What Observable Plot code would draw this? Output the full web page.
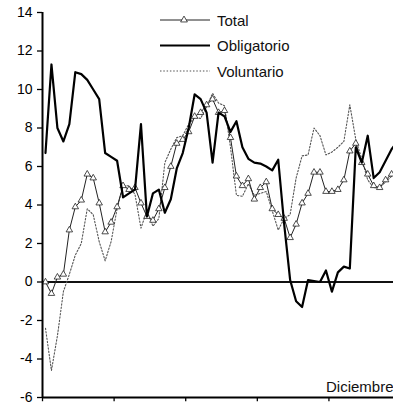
<!DOCTYPE html>
<html><head><meta charset="utf-8">
<script src="https://cdn.jsdelivr.net/npm/d3@7"></script>
<script src="https://cdn.jsdelivr.net/npm/@observablehq/plot@0.6"></script>
<style>
html,body{margin:0;padding:0;background:#fff;overflow:hidden}
#chart{position:relative;width:393px;height:410px}
</style>
</head><body><div id="chart"></div>
<script>
// Monthly growth rates (%), 60 months
const total = [0.0, -0.6, 0.25, 0.4, 2.7, 3.9, 4.25, 5.6, 5.4, 4.1,
  2.6, 3.1, 3.9, 5.0, 4.8, 4.9, 4.1, 3.4, 3.2, 3.8,
  4.9, 6.0, 7.2, 7.4, 7.8, 8.6, 8.8, 9.2, 9.5, 8.8,
  8.9, 7.5, 5.5, 5.0, 5.36, 4.3, 4.9, 5.2, 3.8, 3.5,
  3.3, 2.3, 3.0, 4.1, 4.6, 5.7, 5.7, 4.7, 4.7, 4.8,
  5.3, 6.8, 7.2, 6.2, 5.6, 5.0, 4.9, 5.3, 5.6, 6.0];
const obligatorio = [6.7, 11.3, 8.0, 7.3, 8.2, 10.9, 10.8, 10.5, 10.0, 9.5,
  6.7, 6.5, 6.3, 4.4, 4.6, 4.8, 8.2, 3.4, 4.6, 4.8,
  3.6, 4.3, 5.9, 6.7, 8.0, 9.75, 9.5, 8.8, 6.2, 8.8,
  8.6, 7.8, 8.35, 7.0, 6.4, 6.2, 6.15, 6.0, 5.8, 6.35,
  3.0, 0.1, -1.0, -1.3, 0.1, 0.05, 0.0, 0.6, -0.5, 0.5,
  0.8, 0.7, 7.0, 6.2, 7.6, 5.4, 5.7, 6.3, 6.9, 7.3];
const voluntario = [-2.4, -4.6, -2.8, -0.5, 0.4, 1.4, 2.0, 3.8, 3.5, 2.1,
  1.1, 2.1, 3.8, 5.0, 5.0, 4.55, 2.8, 3.7, 2.9, 3.3,
  6.2, 6.9, 7.5, 7.6, 8.2, 8.55, 8.5, 9.1, 9.8, 9.3,
  9.15, 7.0, 4.5, 4.45, 5.1, 4.5, 4.6, 4.7, 3.7, 2.7,
  3.3, 3.5, 5.4, 6.55, 6.6, 8.0, 7.6, 6.6, 6.75, 7.0,
  7.3, 9.2, 7.4, 6.4, 5.3, 4.9, 4.9, 5.2, 5.5, 5.9];
const seriesNames = ["Total", "Obligatorio", "Voluntario"];
const yTicks = [-6, -4, -2, 0, 2, 4, 6, 8, 10, 12, 14];
const yearBoundaries = [-0.5, 11.5, 23.5, 35.5, 47.5];
const xLabel = "Diciembre";

const rows = total.map((t, i) => ({i, total: t, obligatorio: obligatorio[i], voluntario: voluntario[i]}));
const FONT = "'Liberation Sans', Arial, sans-serif";

const chart = Plot.plot({
  width: 393, height: 410,
  marginLeft: 42, marginRight: 0, marginTop: 12, marginBottom: 13,
  x: {domain: [-0.5, 58.32], axis: null},
  y: {domain: [-6, 14], axis: null},
  style: {fontFamily: FONT, background: "#fff", color: "#000"},
  marks: [
    Plot.ruleY([0], {stroke: "#111", strokeWidth: 2}),
    Plot.line(rows, {x: "i", y: "voluntario", stroke: "#555", strokeWidth: 1.1, strokeDasharray: "1.5,1.8", clip: true}),
    Plot.line(rows, {x: "i", y: "total", stroke: "#222", strokeWidth: 1, clip: true}),
    Plot.dot(rows, {x: "i", y: "total", symbol: "triangle", r: 2.4, fill: "#fff", stroke: "#222", strokeWidth: 0.8, clip: true}),
    Plot.line(rows, {x: "i", y: "obligatorio", stroke: "#000", strokeWidth: 2.2, clip: true}),
    Plot.ruleX([-0.5], {stroke: "#000", strokeWidth: 2}),
    Plot.ruleY([-6], {stroke: "#000", strokeWidth: 2}),
    Plot.ruleX(yearBoundaries, {y1: -6, y2: -6.22, stroke: "#000", strokeWidth: 1.3}),
    Plot.axisY({ticks: yTicks, tickSize: 5, tickPadding: 5, tickFormat: d => String(d), fontSize: 14, stroke: "#000", strokeWidth: 1.3}),
    Plot.text([xLabel], {frameAnchor: "bottom-right", dy: -6, fontSize: 15, fill: "#111"})
  ]
});
document.getElementById("chart").appendChild(chart);

// Legend
const svg = d3.select(chart);
const lg = svg.append("g").attr("font-family", FONT).attr("font-size", 15).attr("text-anchor", "start");
const styles = [
  {stroke: "#222", width: 1, dash: null},
  {stroke: "#000", width: 2.2, dash: null},
  {stroke: "#555", width: 1.1, dash: "1.5,1.8"}
];
seriesNames.forEach((name, k) => {
  const y = 20 + k * 25.5;
  const s = styles[k];
  const ln = lg.append("line").attr("x1", 160).attr("x2", 210).attr("y1", y).attr("y2", y)
    .attr("stroke", s.stroke).attr("stroke-width", s.width);
  if (s.dash) ln.attr("stroke-dasharray", s.dash);
  if (k === 0) {
    lg.append("path").attr("d", d3.symbol(d3.symbolTriangle, 20)())
      .attr("transform", `translate(184,${y})`).attr("fill", "#fff").attr("stroke", "#222").attr("stroke-width", 0.8);
  }
  lg.append("text").attr("x", 217).attr("y", y + 5.5).attr("fill", "#111").text(name);
});
</script>
</body></html>
